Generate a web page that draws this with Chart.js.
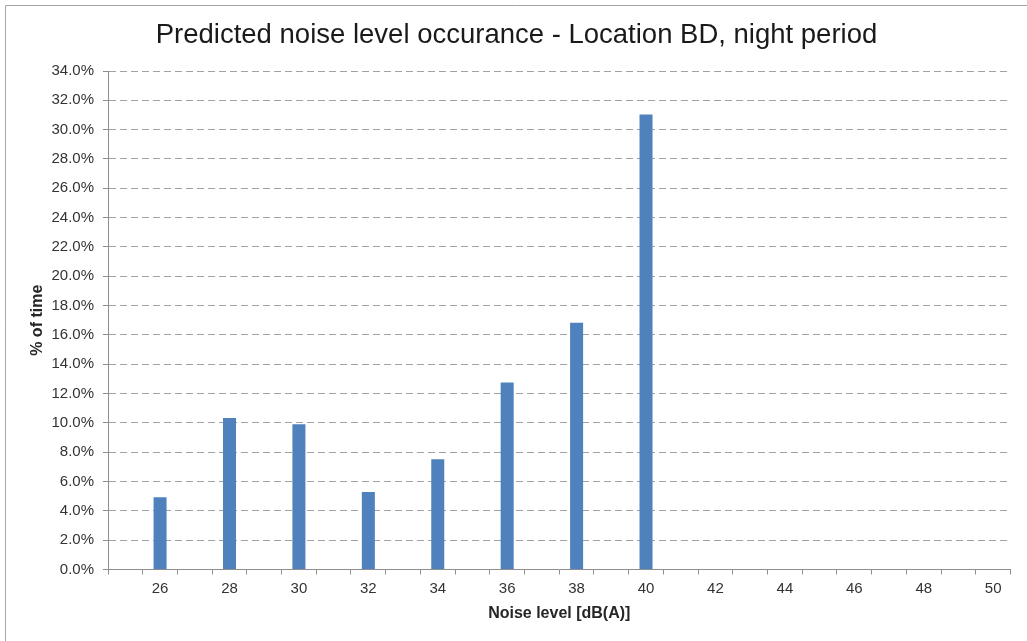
<!DOCTYPE html>
<html>
<head>
<meta charset="utf-8">
<title>Predicted noise level occurance - Location BD, night period</title>
<script src="https://cdn.jsdelivr.net/npm/chart.js@4/dist/chart.umd.min.js"></script>
<style>
  html, body { margin: 0; padding: 0; background: #ffffff; overflow: hidden; }
  #noiseChart { display: block; }
</style>
</head>
<body>
<canvas id="noiseChart" width="1027" height="641"></canvas>
<script>
// Noise level categories, 1 dB steps; only even levels are labelled on the axis
const noiseLevels = ['25', '26', '27', '28', '29', '30', '31', '32', '33', '34', '35', '36', '37',
                     '38', '39', '40', '41', '42', '43', '44', '45', '46', '47', '48', '49', '50'];

// Share of the night period (%) spent at each noise level
const percentOfTime = [0, 4.93, 0, 10.34, 0, 9.91, 0, 5.29, 0, 7.52, 0, 12.75, 0,
                       16.83, 0, 31.04, 0, 0, 0, 0, 0, 0, 0, 0, 0, 0];

// Value axis range and step (%)
const yAxisMin = 0;
const yAxisMax = 34;
const yAxisStep = 2;

const FONT = '"Liberation Sans", Arial, Helvetica, sans-serif';
const AXIS_GREY = '#8e8e8e';

// Thin grey frame around the chart object
const framePlugin = {
  id: 'chartFrame',
  beforeDraw(chart) {
    const ctx = chart.ctx;
    ctx.save();
    ctx.strokeStyle = '#a6a6a6';
    ctx.lineWidth = 1;
    ctx.beginPath();
    ctx.moveTo(5.5, chart.height);
    ctx.lineTo(5.5, 5.5);
    ctx.lineTo(chart.width, 5.5);
    ctx.stroke();
    ctx.restore();
  }
};

new Chart(document.getElementById('noiseChart'), {
  type: 'bar',
  data: {
    labels: noiseLevels,
    datasets: [{
      label: '% of time',
      data: percentOfTime,
      backgroundColor: '#4f81bd',
      borderWidth: 0,
      categoryPercentage: 1.0,
      barPercentage: 0.375
    }]
  },
  options: {
    responsive: false,
    devicePixelRatio: 1,
    animation: false,
    layout: { padding: { left: 22.5, right: 16.5, top: 5, bottom: 0 } },
    plugins: {
      legend: { display: false },
      tooltip: { enabled: false },
      title: {
        display: true,
        text: 'Predicted noise level occurance - Location BD, night period',
        color: '#1a1a1a',
        font: { family: FONT, size: 27.5, weight: 'normal', lineHeight: 1.2 },
        padding: { top: 14, bottom: 19 }
      }
    },
    scales: {
      x: {
        offset: true,
        grid: {
          offset: true,
          drawOnChartArea: false,
          drawTicks: true,
          tickLength: 5,
          tickColor: AXIS_GREY,
          tickWidth: 1
        },
        border: { display: true, color: AXIS_GREY, width: 1 },
        ticks: {
          autoSkip: false,
          maxRotation: 0,
          padding: 5,
          color: '#333333',
          font: { family: FONT, size: 15 },
          callback: function (value, index) {
            const lvl = noiseLevels[index];
            return Number(lvl) % 2 === 0 ? lvl : '';
          }
        },
        title: {
          display: true,
          text: 'Noise level [dB(A)]',
          color: '#262626',
          font: { family: FONT, size: 16, weight: 'bold', lineHeight: 1.2 },
          padding: { top: 0, bottom: 17.4 }
        },
        afterFit(scale) { scale.height = 71.5; }
      },
      y: {
        min: yAxisMin,
        max: yAxisMax,
        grid: {
          color: '#a3a3a3',
          lineWidth: 1,
          drawTicks: true,
          tickLength: 5,
          tickColor: AXIS_GREY,
          tickWidth: 1,
          tickBorderDash: []
        },
        border: { display: true, color: AXIS_GREY, width: 1, dash: [7, 4] },
        ticks: {
          stepSize: yAxisStep,
          padding: 9,
          color: '#333333',
          font: { family: FONT, size: 15 },
          callback: function (value) { return value.toFixed(1) + '%'; }
        },
        title: {
          display: true,
          text: '% of time',
          color: '#262626',
          font: { family: FONT, size: 16, weight: 'bold', lineHeight: 1.2 },
          padding: { top: 5.4, bottom: 0 }
        },
        afterFit(scale) { scale.width = 85.5; }
      }
    }
  },
  plugins: [framePlugin]
});
</script>
</body>
</html>
